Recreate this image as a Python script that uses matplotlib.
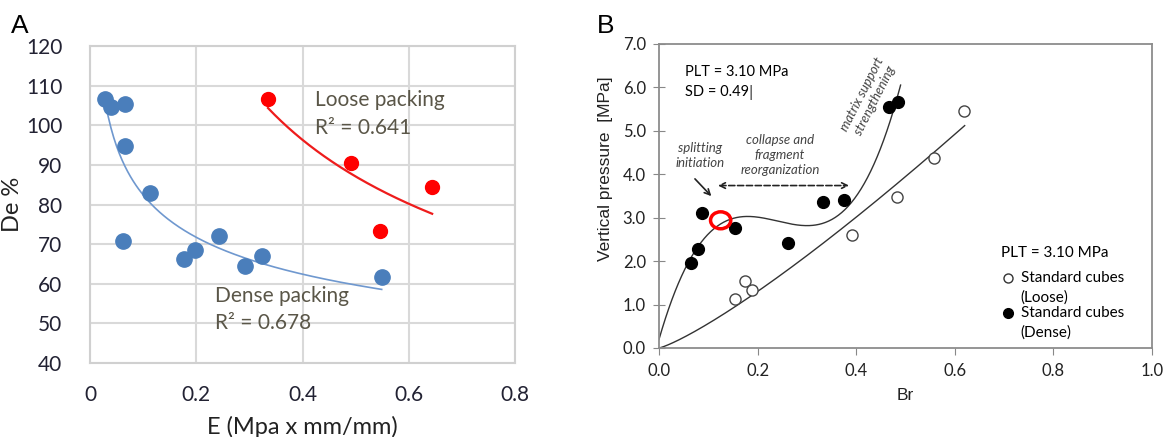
import numpy as np
import matplotlib
matplotlib.use("Agg")
import matplotlib.pyplot as plt
from matplotlib.patches import Ellipse

# panel A: De % against E, two packings
dense_E = [0.029, 0.039, 0.066, 0.066, 0.112, 0.063, 0.176, 0.198, 0.242, 0.292, 0.324, 0.549]
dense_De = [106.6, 104.7, 105.3, 94.8, 82.9, 70.8, 66.2, 68.5, 72.0, 64.6, 67.0, 61.6]
loose_E = [0.335, 0.491, 0.644, 0.545]
loose_De = [106.7, 90.4, 84.4, 73.2]
a_xticks = [0, 0.2, 0.4, 0.6, 0.8]
a_yticks = [40, 50, 60, 70, 80, 90, 100, 110, 120]

# panel B: vertical pressure against Br
dense_Br = [0.065, 0.080, 0.088, 0.154, 0.262, 0.333, 0.376, 0.467, 0.485]
dense_P = [1.95, 2.27, 3.10, 2.77, 2.41, 3.35, 3.41, 5.55, 5.67]
loose_Br = [0.154, 0.175, 0.188, 0.392, 0.482, 0.557, 0.619]
loose_P = [1.13, 1.55, 1.33, 2.60, 3.47, 4.37, 5.46]
b_xticks = [0.0, 0.2, 0.4, 0.6, 0.8, 1.0]
b_yticks = [0, 1, 2, 3, 4, 5, 6, 7]
# trend lines
dense_trend = [242.6, -174.7, 39.3, 0.2]    # cubic, highest power first
loose_trend = (9.13, 1.21)                  # c * x**k
dense_trend_end = 0.49
loose_trend_end = 0.62

calibri = ["Lato", "DejaVu Sans"]
arial = ["Liberation Sans", "DejaVu Sans"]

fig = plt.figure(figsize=(11.66, 4.37), dpi=100)

#---------------- panel A
ax = fig.add_axes([0.0772, 0.1693, 0.3645, 0.7254])
ax.set_xlim(0, 0.8)
ax.set_ylim(40, 120)
ax.set_xticks(a_xticks)
ax.set_yticks(a_yticks)
ax.set_xticklabels(["0", "0.2", "0.4", "0.6", "0.8"], family=calibri, fontsize=15, color="#222233")
ax.set_yticklabels([str(v) for v in a_yticks], family=calibri, fontsize=15, color="#222233")
ax.tick_params(axis="y", length=0, pad=20)
ax.tick_params(axis="x", length=0, pad=16)
ax.grid(True, color="#d9d9d9", lw=1.5)
ax.set_axisbelow(True)
for s in ax.spines.values():
    s.set_color("#d0d0d0")
    s.set_linewidth(1.5)

# power trendlines y = c*x^k fitted in log space
k, lc = np.polyfit(np.log(dense_E), np.log(dense_De), 1)
xx = np.linspace(min(dense_E), max(dense_E), 200)
ax.plot(xx, np.exp(lc) * xx**k, color="#6f98cf", lw=1.2, zorder=2)
k, lc = np.polyfit(np.log(loose_E), np.log(loose_De), 1)
xx = np.linspace(min(loose_E), max(loose_E), 200)
ax.plot(xx, np.exp(lc) * xx**k, color="#ee1c1c", lw=1.6, zorder=2)

ax.plot(dense_E, dense_De, "o", color="#4a7ebb", ms=11, mec="#4a7ebb", zorder=3)
ax.plot(loose_E, loose_De, "o", color="#ff0000", ms=10, mec="#ff0000", zorder=3)

tc = "#5a5648"
ax.text(0.423, 106.3, "Loose packing", family=calibri, fontsize=15, color=tc, va="center")
ax.text(0.423, 99.3, "R² = 0.641", family=calibri, fontsize=15, color=tc, va="center")
ax.text(0.235, 56.8, "Dense packing", family=calibri, fontsize=15, color=tc, va="center")
ax.text(0.235, 50.0, "R² = 0.678", family=calibri, fontsize=15, color=tc, va="center")

ax.set_ylabel("De %", family=calibri, fontsize=17, color="#222222", labelpad=2)
ax.set_xlabel("E (Mpa x mm/mm)", family=calibri, fontsize=17, color="#222222", labelpad=8)
fig.text(0.009, 0.94, "A", family=arial, fontsize=19, va="center")

#---------------- panel B
bx = fig.add_axes([0.5652, 0.2037, 0.4228, 0.6957])
bx.set_xlim(0, 1.0)
bx.set_ylim(0, 7.0)
bx.set_xticks(b_xticks)
bx.set_yticks(b_yticks)
bx.set_xticklabels(["%.1f" % v for v in b_xticks], family=calibri, fontsize=12, color="#222222")
bx.set_yticklabels(["%.1f" % v for v in b_yticks], family=calibri, fontsize=12, color="#222222")
bx.tick_params(axis="y", direction="inout", length=9, color="#888888", pad=5)
bx.tick_params(axis="x", direction="out", length=5, color="#888888", pad=6)
for s in bx.spines.values():
    s.set_color("#8c8c8c")
    s.set_linewidth(1.3)

xx = np.linspace(0, dense_trend_end, 300)
bx.plot(xx, np.polyval(dense_trend, xx), color="#333333", lw=1.0, zorder=2)
xx = np.linspace(0, loose_trend_end, 300)
bx.plot(xx, loose_trend[0] * xx**loose_trend[1], color="#333333", lw=1.0, zorder=2)

bx.plot(dense_Br, dense_P, "o", color="black", ms=8.5, zorder=3)
bx.plot(loose_Br, loose_P, "o", mfc="white", mec="#444444", mew=1.0, ms=8, zorder=3)
bx.add_patch(Ellipse((0.125, 2.94), 0.041, 0.39, fill=False, ec="#ff0000", lw=2.5, zorder=4))

bx.text(0.053, 6.36, "PLT = 3.10 MPa", family=calibri, fontsize=10.5, va="center")
bx.text(0.053, 5.89, "SD = 0.49", family=calibri, fontsize=10.5, va="center")
bx.text(0.182, 5.89, "|", family=arial, fontsize=12, va="center", color="#555555")

ic = "#444444"
bx.text(0.083, 4.44, "splitting\ninitiation", family=calibri, style="italic", fontsize=9.5,
        color=ic, ha="center", va="center", linespacing=1.3)
bx.text(0.245, 4.44, "collapse and\nfragment\nreorganization", family=calibri, style="italic",
        fontsize=9.5, color=ic, ha="center", va="center", linespacing=1.3)
bx.text(0.425, 5.78, "matrix support\nstrengthening", family=calibri, style="italic", fontsize=9.5,
        color=ic, ha="center", va="center", rotation=63, rotation_mode="anchor", linespacing=1.2)
bx.annotate("", xy=(0.110, 3.45), xytext=(0.069, 3.94),
            arrowprops=dict(arrowstyle="->", color="#222222", lw=1.2))
bx.annotate("", xy=(0.391, 3.74), xytext=(0.114, 3.74),
            arrowprops=dict(arrowstyle="<->", color="#222222", lw=1.2, linestyle="--"))

# legend drawn as text block
bx.text(0.694, 2.19, "PLT = 3.10 MPa", family=calibri, fontsize=11, va="center")
bx.plot([0.708], [1.61], "o", mfc="white", mec="#333333", ms=6.5)
bx.text(0.734, 1.61, "Standard cubes", family=calibri, fontsize=11, va="center")
bx.text(0.734, 1.15, "(Loose)", family=calibri, fontsize=11, va="center")
bx.plot([0.708], [0.81], "o", color="black", ms=7)
bx.text(0.734, 0.81, "Standard cubes", family=calibri, fontsize=11, va="center")
bx.text(0.734, 0.35, "(Dense)", family=calibri, fontsize=11, va="center")

bx.set_ylabel("Vertical pressure  [MPa]", family=arial, fontsize=12.5, color="#222222")
bx.yaxis.set_label_coords(-0.094, 0.59)
bx.set_xlabel("Br", family=arial, fontsize=12.5, color="#222222", labelpad=6)
fig.text(0.512, 0.94, "B", family=arial, fontsize=19, va="center")

fig.savefig("out.png", dpi=100)
